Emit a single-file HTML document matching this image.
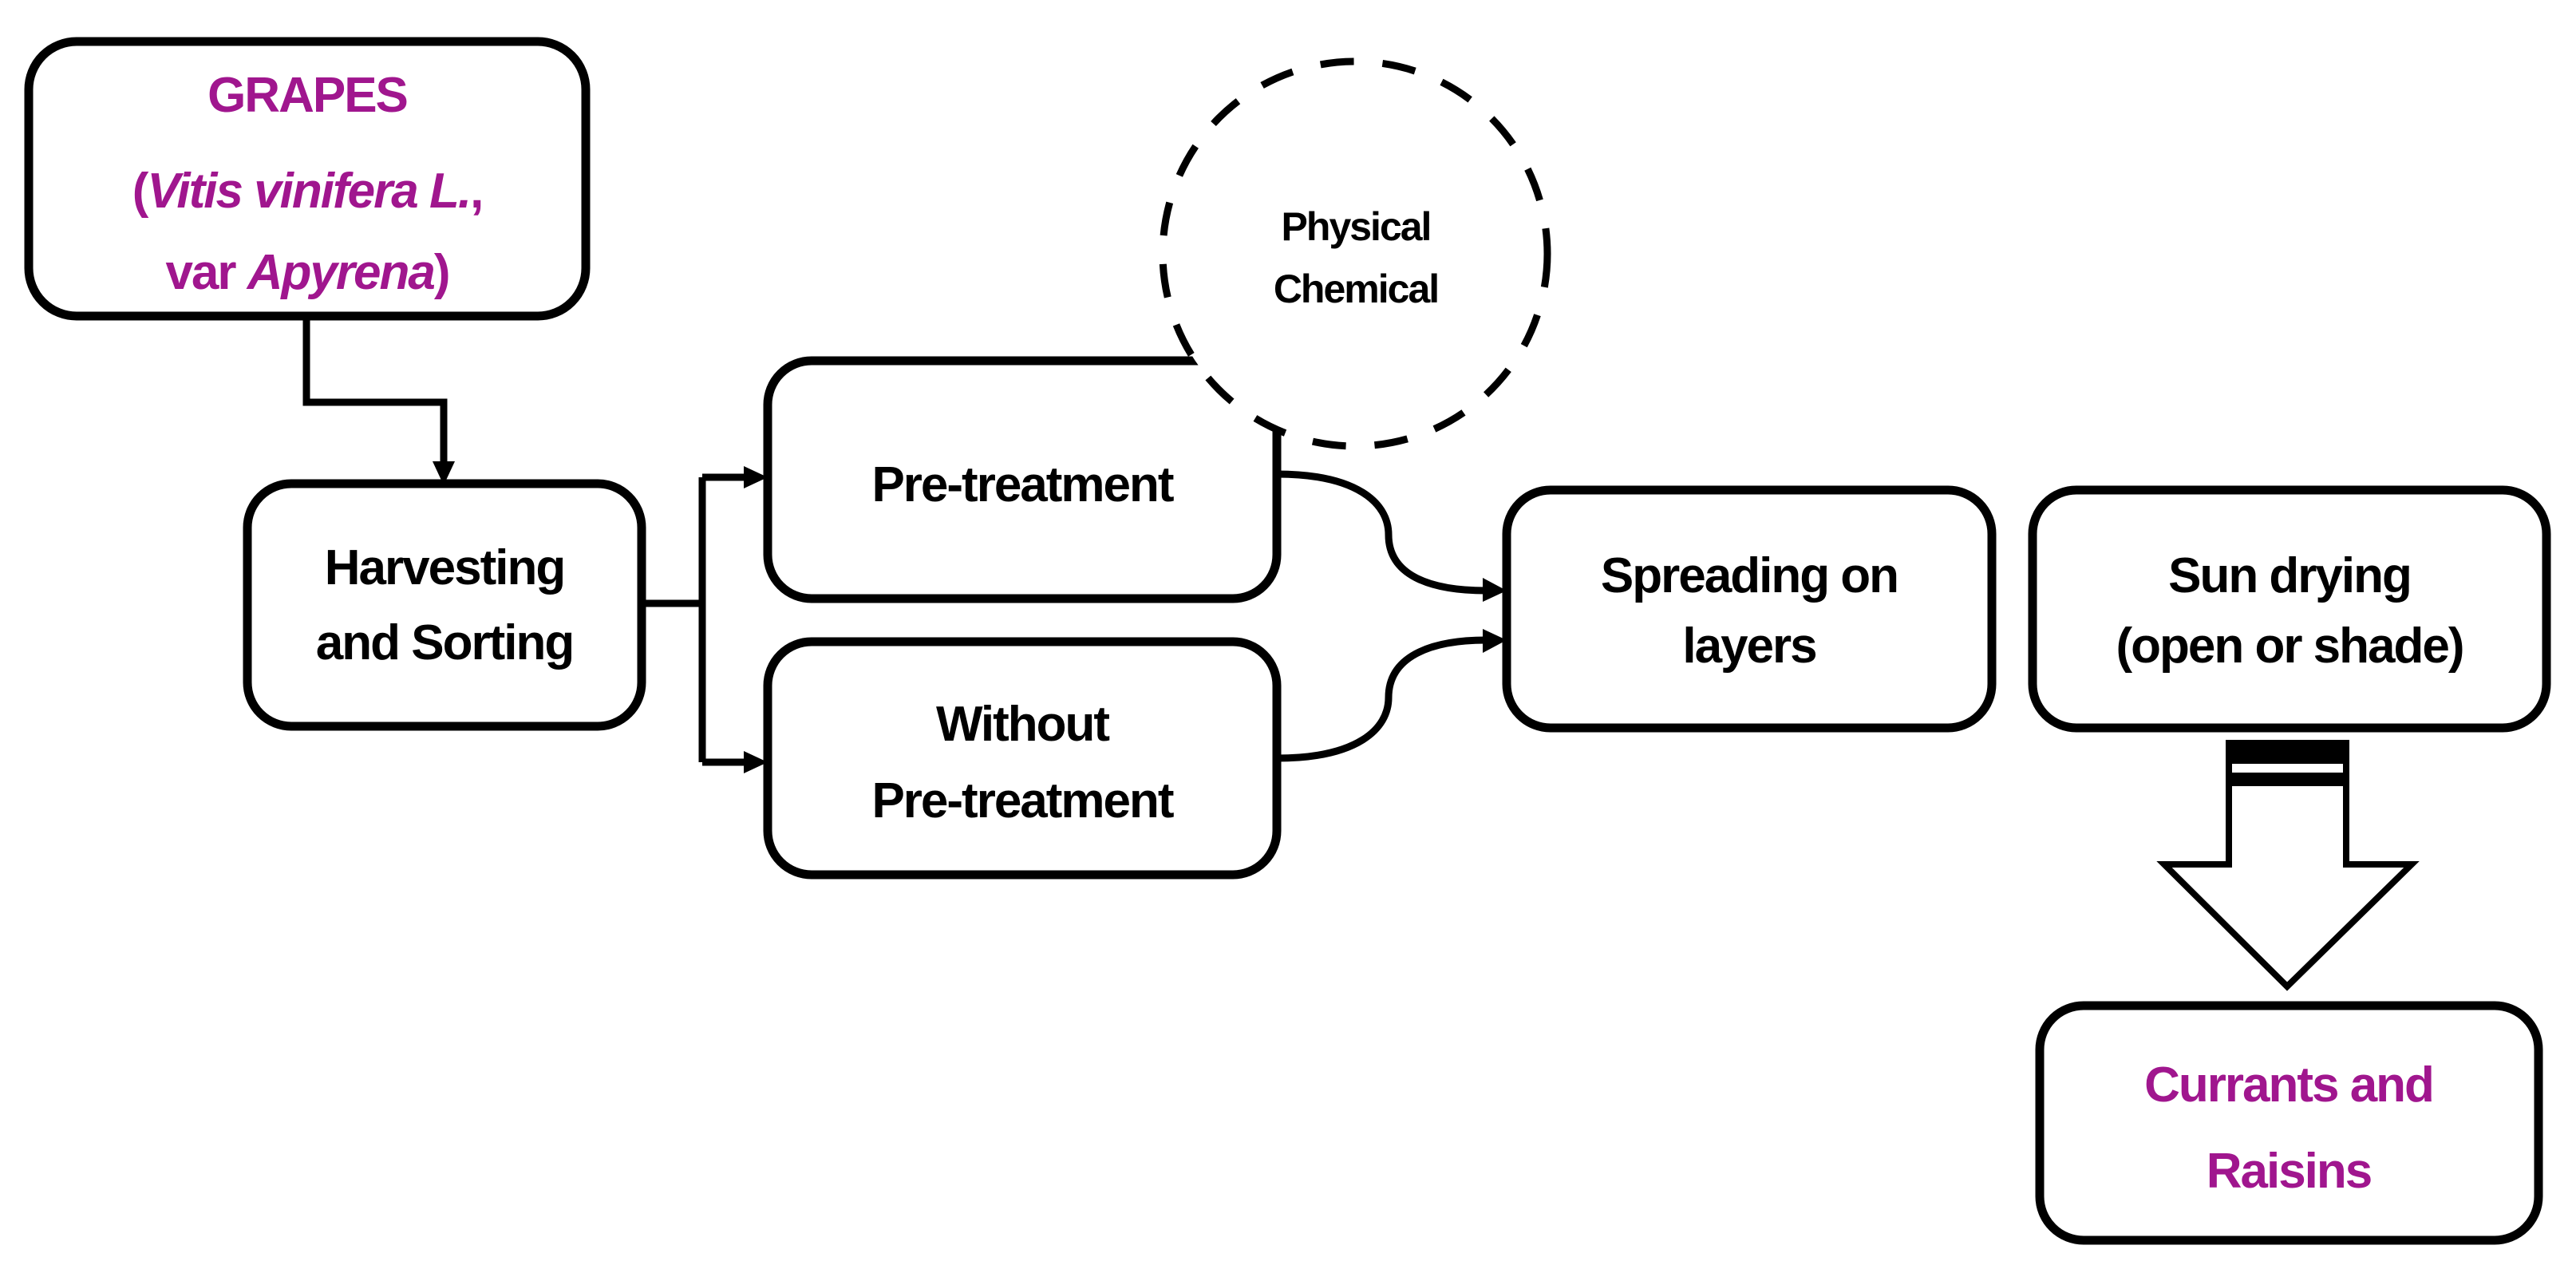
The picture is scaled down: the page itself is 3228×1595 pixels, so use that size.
<!DOCTYPE html>
<html><head><meta charset="utf-8"><style>
html,body{margin:0;padding:0;background:#fff;}
svg{display:block;}
text{font-family:"Liberation Sans",sans-serif;font-weight:bold;text-anchor:middle;fill:#000;letter-spacing:-2px;}
.p{fill:#a0168e;}
</style></head><body>
<svg width="3228" height="1595" viewBox="0 0 3228 1595" xmlns="http://www.w3.org/2000/svg">
<defs>
<marker id="ar" markerWidth="8" markerHeight="8" refX="7" refY="4" orient="auto" markerUnits="userSpaceOnUse" viewBox="0 0 8 8">
</marker>
</defs>
<g fill="none" stroke="#000" stroke-width="11">
<rect x="36" y="52" width="698" height="344" rx="60"/>
<rect x="310" y="606" width="494" height="304" rx="55"/>
<rect x="962" y="452" width="638" height="298" rx="55"/>
<rect x="962" y="804" width="638" height="292" rx="55"/>
<rect x="1888" y="614" width="608" height="298" rx="55"/>
<rect x="2547" y="614" width="644" height="298" rx="55"/>
<rect x="2556" y="1260" width="625" height="294" rx="55"/>
<!-- elbow connectors -->
<polyline points="384,396 384,504 556,504 556,580" stroke-width="9"/>
<polyline points="804,756 880,756" stroke-width="9"/>
<polyline points="880,598 880,955" stroke-width="9"/>
<polyline points="880,598 935,598" stroke-width="9"/>
<polyline points="880,955 935,955" stroke-width="9"/>
<!-- curves -->
<path d="M1600,594 C1700,594 1740,630 1740,670 C1740,720 1790,740 1862,740" stroke-width="9"/>
<path d="M1600,950 C1700,950 1740,914 1740,874 C1740,824 1790,802 1862,802" stroke-width="9"/>
</g>
<g fill="#000">
<polygon points="542,578 570,578 556,608"/>
<polygon points="932,584 932,612 962,598"/>
<polygon points="932,941 932,969 962,955"/>
<polygon points="1858,724 1888,740 1858,754"/>
<polygon points="1858,788 1888,802 1858,818"/>
</g>
<!-- dashed circle -->
<circle cx="1698" cy="318" r="241" fill="#fff" stroke="#000" stroke-width="9" stroke-dasharray="42,36"/>
<!-- hollow arrow -->
<polygon points="2793,931 2940,931 2940,1083 3022,1083 2866,1236 2712,1083 2793,1083" fill="#fff" stroke="#000" stroke-width="8" stroke-linejoin="miter"/>
<rect x="2793" y="931" width="147" height="26" fill="#000"/>
<rect x="2793" y="968" width="147" height="17" fill="#000"/>
<g font-size="62">
<text class="p" x="385" y="140">GRAPES</text>
<text class="p" x="385" y="260"><tspan>(</tspan><tspan font-style="italic">Vitis vinifera L.</tspan><tspan>,</tspan></text>
<text class="p" x="385" y="362"><tspan>var </tspan><tspan font-style="italic">Apyrena</tspan><tspan>)</tspan></text>
<text x="557" y="732">Harvesting</text>
<text x="557" y="826">and Sorting</text>
<text x="1281" y="628">Pre-treatment</text>
<text x="1281" y="928">Without</text>
<text x="1281" y="1024">Pre-treatment</text>
<text x="2192" y="742">Spreading on</text>
<text x="2192" y="830">layers</text>
<text x="2869" y="742">Sun drying</text>
<text x="2869" y="830">(open or shade)</text>
<text class="p" x="2868" y="1380">Currants and</text>
<text class="p" x="2868" y="1488">Raisins</text>
</g>
<g font-size="50">
<text x="1699" y="301">Physical</text>
<text x="1699" y="379">Chemical</text>
</g>
</svg>
</body></html>
